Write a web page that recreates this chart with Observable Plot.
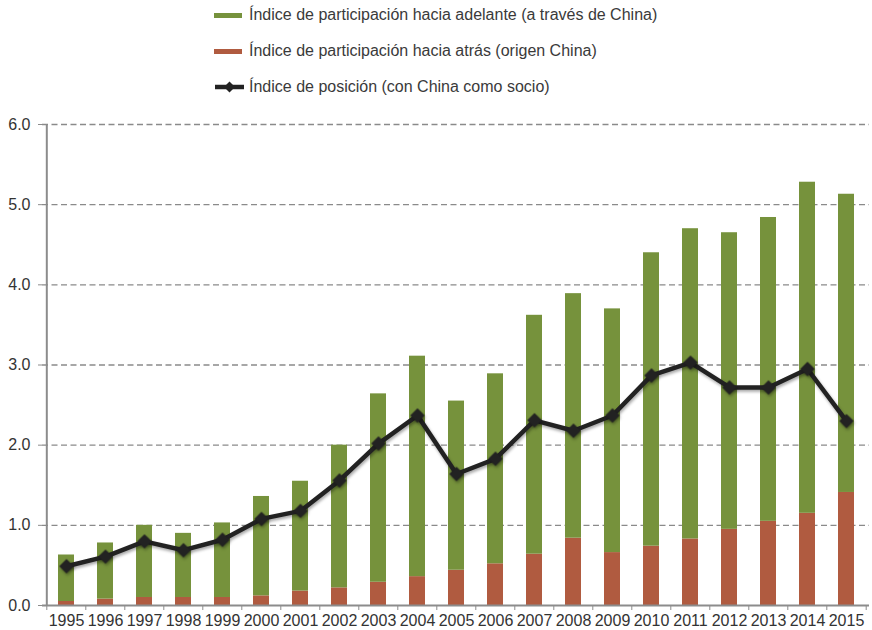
<!DOCTYPE html>
<html>
<head>
<meta charset="utf-8">
<script src="https://cdn.jsdelivr.net/npm/d3@7"></script>
<script src="https://cdn.jsdelivr.net/npm/@observablehq/plot@0.6"></script>
<style>
  body { margin: 0; background: #fff; font-family: "Liberation Sans", Arial, sans-serif; }
  #legend { position: relative; width: 872px; height: 100px; }
  .item { position: absolute; left: 214px; height: 18px; line-height: 18px; font-size: 16px; color: #3a3a3a; white-space: nowrap; display: flex; align-items: center; }
  .sw { width: 28px; height: 5px; margin-right: 7px; }
  #chart svg { display: block; }
</style>
</head>
<body>
<div id="legend"></div>
<div id="chart"></div>
<script>
const years = ["1995","1996","1997","1998","1999","2000","2001","2002","2003","2004","2005","2006","2007","2008","2009","2010","2011","2012","2013","2014","2015"];
// Índice de participación hacia atrás (origen China)
const backward = [0.05,0.08,0.10,0.10,0.10,0.12,0.18,0.22,0.29,0.36,0.44,0.52,0.64,0.84,0.66,0.74,0.83,0.95,1.05,1.15,1.41];
// Índice de participación hacia adelante (a través de China), stacked above
const forward = [0.58,0.70,0.90,0.80,0.93,1.24,1.37,1.78,2.35,2.75,2.11,2.37,2.98,3.05,3.04,3.66,3.87,3.70,3.79,4.13,3.72];
// Índice de posición (con China como socio)
const position = [0.49,0.61,0.80,0.69,0.82,1.08,1.18,1.56,2.02,2.37,1.64,1.83,2.31,2.18,2.37,2.87,3.03,2.72,2.72,2.95,2.30];
const yTicks = [0,1,2,3,4,5,6];
const seriesNames = ["Índice de participación hacia adelante (a través de China)","Índice de participación hacia atrás (origen China)","Índice de posición (con China como socio)"];

const green = "#76923c", red = "#b05b40", lineColor = "#222222", gridColor = "#8a8a8a";

// Legend
const legend = document.getElementById("legend");
const tops = [6, 42, 78];
seriesNames.forEach((name, i) => {
  const d = document.createElement("div");
  d.className = "item";
  d.style.top = tops[i] + "px";
  if (i < 2) {
    d.innerHTML = `<span class="sw" style="background:${i===0?green:red}"></span><span>${name}</span>`;
  } else {
    d.innerHTML = `<svg width="31" height="14" style="margin-right:4px"><line x1="1" y1="7" x2="30" y2="7" stroke="${lineColor}" stroke-width="4.5"/><path d="M15.5,1.5 L21,7 L15.5,12.5 L10,7 Z" fill="${lineColor}"/></svg><span>${name}</span>`;
  }
  legend.appendChild(d);
});

const rows = years.flatMap((y, i) => [
  {year: y, serie: "back", v: backward[i]},
  {year: y, serie: "fwd", v: forward[i]}
]);
const pts = years.map((y, i) => ({year: y, v: position[i]}));

const W = 872, mL = 42, mR = 3;
const step = (W - mL - mR) / years.length;

const chart = Plot.plot({
  width: W,
  height: 530,
  marginTop: 24,
  marginBottom: 25,
  marginLeft: mL,
  marginRight: mR,
  style: {fontFamily: "Liberation Sans, Arial, sans-serif", fontSize: "16px", color: "#333"},
  x: {type: "band", domain: years, paddingInner: 0.6, paddingOuter: 0.3, label: null},
  y: {domain: [0, 6], label: null},
  color: {domain: ["fwd", "back"], range: [green, red]},
  marks: [
    Plot.ruleY(yTicks.filter(d => d > 0), {stroke: gridColor, strokeWidth: 1.3, strokeDasharray: "6,3.5"}),
    Plot.barY(rows, {x: "year", y: "v", fill: "serie", order: ["back", "fwd"]}),
    Plot.ruleY([0], {stroke: "#8c8c8c", strokeWidth: 2}),
    Plot.ruleX([years[0]], {x: d => d, dx: -step / 2, y1: 0, y2: 6, stroke: "#8c8c8c", strokeWidth: 2}),
    Plot.axisY({ticks: yTicks, tickFormat: d => d.toFixed(1), tickSize: 4, tickPadding: 8, stroke: "#8c8c8c", fill: "#333", fontSize: 16, label: null}),
    Plot.axisX({ticks: years, tickFormat: () => "", tickSize: 5, dx: -step / 2, stroke: "#8c8c8c", label: null}),
    Plot.axisX({ticks: [years[years.length - 1]], tickFormat: () => "", tickSize: 5, dx: step / 2, stroke: "#8c8c8c", label: null}),
    Plot.axisX({ticks: years, tickSize: 0, tickPadding: 9, fill: "#333", fontSize: 16, label: null}),
    Plot.line(pts, {x: "year", y: "v", stroke: lineColor, strokeWidth: 4.5, className: "posline"}),
    Plot.dot(pts, {x: "year", y: "v", symbol: "diamond2", r: 6.5, fill: lineColor, stroke: "none", className: "posdots"})
  ]
});
chart.querySelectorAll(".posline, .posdots").forEach(g => g.style.filter = "drop-shadow(1px 2px 1.5px rgba(0,0,0,0.35))");
document.getElementById("chart").appendChild(chart);
</script>
</body>
</html>
